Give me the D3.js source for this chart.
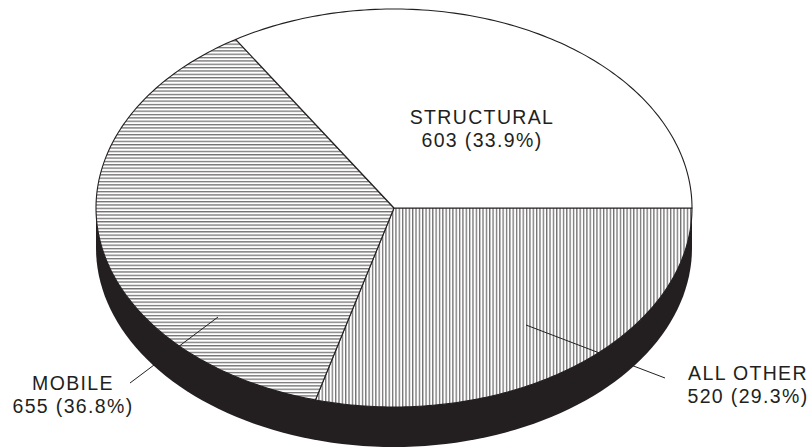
<!DOCTYPE html>
<html><head><meta charset="utf-8">
<script src="https://cdn.jsdelivr.net/npm/d3@7"></script>
<style>html,body{margin:0;padding:0;background:#fff}svg{display:block}
text{font-family:"Liberation Sans",Arial,sans-serif;font-size:19.5px;fill:#231f20;letter-spacing:1.35px;text-anchor:middle}</style>
</head><body><svg id="c" width="812" height="447"></svg>
<script>
const categories = ["ALL OTHER", "MOBILE", "STRUCTURAL"];
const values = [520, 655, 603];
const percents = ["29.3%", "36.8%", "33.9%"];

const W = 812, H = 447, cx = 394, cy = 208, rx = 298, ry = 199, depth = 40, ink = "#231f20";
const svg = d3.select("#c");
const defs = svg.append("defs");
const gap = 3.35, bar = 1.3, hatch = "#737172";
defs.append("pattern").attr("id","hH").attr("patternUnits","userSpaceOnUse").attr("width",8).attr("height",gap)
  .append("rect").attr("width",8).attr("height",bar).attr("fill",hatch);
defs.append("pattern").attr("id","hV").attr("patternUnits","userSpaceOnUse").attr("width",gap).attr("height",8)
  .append("rect").attr("width",bar).attr("height",8).attr("fill",hatch);
const fills = {"ALL OTHER":"url(#hV)","MOBILE":"url(#hH)","STRUCTURAL":"#fff"};

const pie = d3.pie().sort(null).startAngle(Math.PI/2).endAngle(Math.PI/2+2*Math.PI);
const arcs = pie(values);

// side wall
const side = d3.path();
side.moveTo(cx-rx,cy); side.lineTo(cx-rx,cy+depth);
d3.range(0,181,2).forEach(a=>{const t=Math.PI-a*Math.PI/180;side.lineTo(cx+rx*Math.cos(t),cy+depth+ry*Math.sin(t));});
side.lineTo(cx+rx,cy); side.closePath();
svg.append("path").attr("d",side.toString()).attr("fill",ink);

const g = svg.append("g");
arcs.forEach((d,i)=>{
  const p = d3.path();
  const n = 120;
  p.moveTo(cx,cy);
  d3.range(n+1).forEach(j=>{
    const t = d.startAngle+(d.endAngle-d.startAngle)*j/n;
    p.lineTo(cx+rx*Math.sin(t),cy-ry*Math.cos(t));
  });
  p.closePath();
  g.append("path").attr("d",p.toString()).attr("fill","#fff");
  g.append("path").attr("d",p.toString()).attr("fill",fills[categories[i]])
   .attr("stroke",ink).attr("stroke-width",1.1).attr("stroke-linejoin","round");
});

// leaders
const leaders = [[526,325,665,378],[218,317,130,383]];
svg.selectAll("line").data(leaders).join("line")
 .attr("x1",d=>d[0]).attr("y1",d=>d[1]).attr("x2",d=>d[2]).attr("y2",d=>d[3])
 .attr("stroke",ink).attr("stroke-width",1);

// labels
const labelPos = {"ALL OTHER":[748,380],"MOBILE":[73,390],"STRUCTURAL":[482,124]};
categories.forEach((c,i)=>{
  const [x,y] = labelPos[c];
  const t = svg.append("text").attr("x",x).attr("y",y);
  t.append("tspan").attr("x",x).text(c);
  t.append("tspan").attr("x",x).attr("dy",23).text(`${values[i]} (${percents[i]})`);
});
</script></body></html>
